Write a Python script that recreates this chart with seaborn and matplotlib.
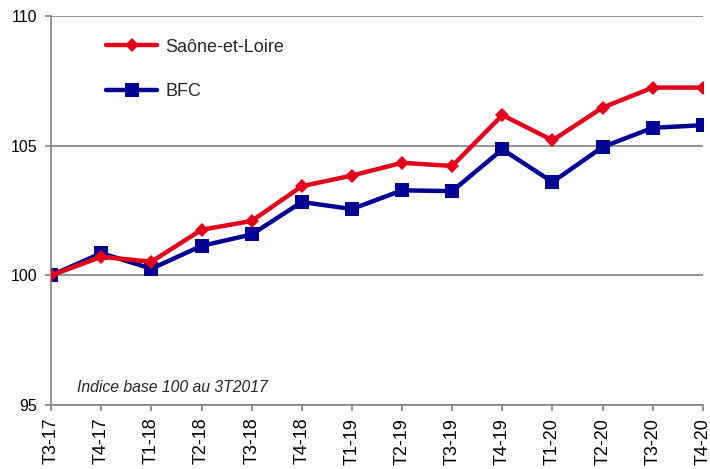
import pandas as pd
import seaborn as sns
import matplotlib.pyplot as plt

# Données (indice base 100 au 3T2017)
quarters = ["T3-17", "T4-17", "T1-18", "T2-18", "T3-18", "T4-18", "T1-19",
            "T2-19", "T3-19", "T4-19", "T1-20", "T2-20", "T3-20", "T4-20"]
saone_et_loire = [100.0, 100.72, 100.53, 101.76, 102.1, 103.44, 103.85,
                  104.34, 104.22, 106.18, 105.21, 106.47, 107.24, 107.24]
bfc = [100.0, 100.86, 100.26, 101.14, 101.58, 102.83, 102.56,
       103.28, 103.25, 104.86, 103.6, 104.95, 105.69, 105.79]

series_names = ["Saône-et-Loire", "BFC"]
colors = {"Saône-et-Loire": "#E2001A", "BFC": "#000093"}

# Long format
df = pd.concat([
    pd.DataFrame({"pos": range(len(quarters)), "Trimestre": quarters,
                  "Indice": saone_et_loire, "Zone": "Saône-et-Loire"}),
    pd.DataFrame({"pos": range(len(quarters)), "Trimestre": quarters,
                  "Indice": bfc, "Zone": "BFC"}),
])

sns.set_theme(style="white")
plt.rcParams["font.family"] = ["Liberation Sans", "DejaVu Sans"]

fig = plt.figure(figsize=(7.1, 4.69), dpi=100)
ax = fig.add_axes([0.072, 0.136, 0.918, 0.830])

# BFC first so the red line sits on top where they overlap
for name, marker, ms in [("BFC", "s", 10), ("Saône-et-Loire", "D", 7.5)]:
    sns.lineplot(data=df[df["Zone"] == name], x="pos", y="Indice",
                 color=colors[name], marker=marker, markersize=ms,
                 markeredgewidth=0, linewidth=3.2, label=name, ax=ax,
                 zorder=3 if name == "Saône-et-Loire" else 2)

ax.set_xlim(0, len(quarters) - 1)
ax.set_ylim(95, 110)
ax.set_yticks([95, 100, 105, 110])
ax.set_xticks(range(len(quarters)))
ax.set_xticklabels(quarters, rotation=90)
ax.set_xlabel("")
ax.set_ylabel("")

grid_col = "#8a8a8a"
ax.yaxis.grid(True, color=grid_col, linewidth=1.3)
ax.xaxis.grid(False)
for side in ["top", "right"]:
    ax.spines[side].set_visible(False)
for side in ["left", "bottom"]:
    ax.spines[side].set_color(grid_col)
    ax.spines[side].set_linewidth(1.3)
ax.tick_params(axis="both", colors=grid_col, length=4, width=1.3,
               labelcolor="black")
ax.tick_params(axis="x", direction="out", bottom=True, labelsize=13, pad=5)
ax.tick_params(axis="y", direction="out", left=True, labelsize=11.5, pad=6)

ax.text(0.04, 0.033, "Indice base 100 au 3T2017", transform=ax.transAxes,
        fontsize=11.3, style="italic", ha="left", va="baseline")

# Legend in the order of the original
handles, labels = ax.get_legend_handles_labels()
order = [labels.index(n) for n in series_names]
ax.legend([handles[i] for i in order], [labels[i] for i in order],
          loc="upper left", bbox_to_anchor=(0.06, 0.983), frameon=False,
          fontsize=13, handlelength=2.8, handletextpad=0.45, labelspacing=1.5)

fig.savefig("out.png", dpi=100)
